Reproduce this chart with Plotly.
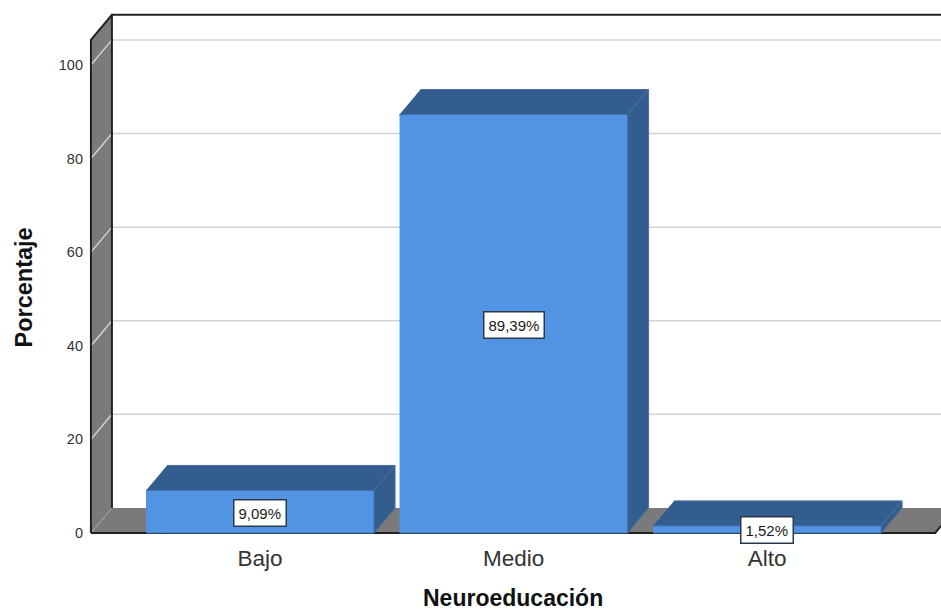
import plotly.graph_objects as go

# Datos del gráfico
categorias = ["Bajo", "Medio", "Alto"]
porcentajes = [9.09, 89.39, 1.52]
ticks_y = [0, 20, 40, 60, 80, 100]

# Geometría de la pseudo-perspectiva, en unidades de los ejes
PX_CAT = 253.5
PX_VAL = 4.68
PROF_X = 21 / PX_CAT
PROF_Y = 25 / PX_VAL
ANCHO = 228 / PX_CAT
X_INI, X_FIN = -0.667, 2.663
Y_TOPE = 105.35

PARED = "#7a7a7a"
REJILLA = "#d2d2d2"
BORDE = "#222222"
FRENTE = "#5294e4"
OSCURO = "#345d8f"
ARISTA = "#3f70a8"

ALTO_FIG, ANCHO_FIG = 612, 941
MARGEN = dict(l=89, r=0, t=12, b=75)

fig = go.Figure()


def poligono(xs, ys, relleno=None, linea=None, grosor=1):
    fig.add_trace(go.Scatter(
        x=xs, y=ys, mode="lines",
        fill="toself" if relleno else "none",
        fillcolor=relleno,
        line=dict(color=linea or relleno, width=grosor if linea else 0),
        hoverinfo="skip", showlegend=False,
    ))


# Pared lateral y suelo
poligono([X_INI, X_INI + PROF_X, X_INI + PROF_X, X_INI],
         [0, PROF_Y, Y_TOPE + PROF_Y, Y_TOPE], PARED)
poligono([X_INI, X_FIN, X_FIN + PROF_X, X_INI + PROF_X],
         [0, 0, PROF_Y, PROF_Y], PARED)

# Rejilla: tramo en la pared lateral y tramo en el fondo
for v in ticks_y[1:]:
    poligono([X_INI, X_INI + PROF_X, X_FIN + PROF_X],
             [v, v + PROF_Y, v + PROF_Y], linea=REJILLA, grosor=1.5)
poligono([X_INI, X_INI + PROF_X], [0, PROF_Y], linea="#a8a8a8", grosor=1)

# Contorno del recinto
poligono([X_INI, X_INI, X_INI + PROF_X, X_FIN + PROF_X],
         [0, Y_TOPE, Y_TOPE + PROF_Y, Y_TOPE + PROF_Y], linea=BORDE, grosor=2)
poligono([X_INI + PROF_X, X_INI + PROF_X],
         [PROF_Y, Y_TOPE + PROF_Y], linea=BORDE, grosor=2)
poligono([X_INI, X_FIN, X_FIN + PROF_X], [0, 0, PROF_Y], linea=BORDE, grosor=2)

# Barras: cara superior, cara lateral y frente
for i, valor in enumerate(porcentajes):
    x0, x1 = i - ANCHO / 2, i + ANCHO / 2
    poligono([x0, x1, x1 + PROF_X, x0 + PROF_X],
             [valor, valor, valor + PROF_Y, valor + PROF_Y], OSCURO, "#4a6f9c", 1)
    poligono([x1, x1 + PROF_X, x1 + PROF_X, x1],
             [0, PROF_Y, valor + PROF_Y, valor], OSCURO, "#4a6f9c", 1)
    poligono([x0, x1, x1, x0], [0, 0, valor, valor], FRENTE, ARISTA, 1)

# Etiquetas de valor en el centro de cada frente
for i, valor in enumerate(porcentajes):
    fig.add_annotation(
        x=i, y=valor / 2, yshift=-1, text=f"{valor:.2f}%".replace(".", ","),
        showarrow=False, bgcolor="white", bordercolor="#2b3a4a", borderwidth=1.5,
        borderpad=4, font=dict(family="Liberation Sans", size=15, color="#1a1a1a"),
    )

# Títulos de los ejes
fig.add_annotation(
    xref="paper", yref="paper", xanchor="center", yanchor="middle",
    x=(512.5 - MARGEN["l"]) / (ANCHO_FIG - MARGEN["l"]),
    y=(ALTO_FIG - MARGEN["b"] - 598) / (ALTO_FIG - MARGEN["b"] - MARGEN["t"]),
    text="<b>Neuroeducación</b>", showarrow=False,
    font=dict(family="Liberation Sans", size=23, color="#111111"),
)
fig.add_annotation(
    xref="paper", yref="paper", xanchor="center", yanchor="middle",
    x=(23 - MARGEN["l"]) / (ANCHO_FIG - MARGEN["l"]),
    y=(ALTO_FIG - MARGEN["b"] - 287.5) / (ALTO_FIG - MARGEN["b"] - MARGEN["t"]),
    text="<b>Porcentaje</b>", showarrow=False, textangle=-90,
    font=dict(family="Liberation Sans", size=23.5, color="#111111"),
)

fig.update_layout(
    width=ANCHO_FIG, height=ALTO_FIG,
    margin=MARGEN,
    paper_bgcolor="white", plot_bgcolor="white",
    showlegend=False,
    font=dict(family="Liberation Sans", color="#111111"),
    xaxis=dict(
        range=[-0.6746, 2.686], showgrid=False, zeroline=False, showline=False,
        tickmode="array", tickvals=list(range(len(categorias))), ticktext=categorias,
        ticks="", ticklabelstandoff=5, tickfont=dict(size=22.5, color="#333333"),
    ),
    yaxis=dict(
        range=[-0.855, 111.3], showgrid=False, zeroline=False, showline=False,
        tickmode="array", tickvals=ticks_y, ticktext=[str(t) for t in ticks_y],
        ticks="", ticklabelstandoff=5, tickfont=dict(size=14.5, color="#333333"),
    ),
)

fig.write_html("out.html", config={"displayModeBar": False})
